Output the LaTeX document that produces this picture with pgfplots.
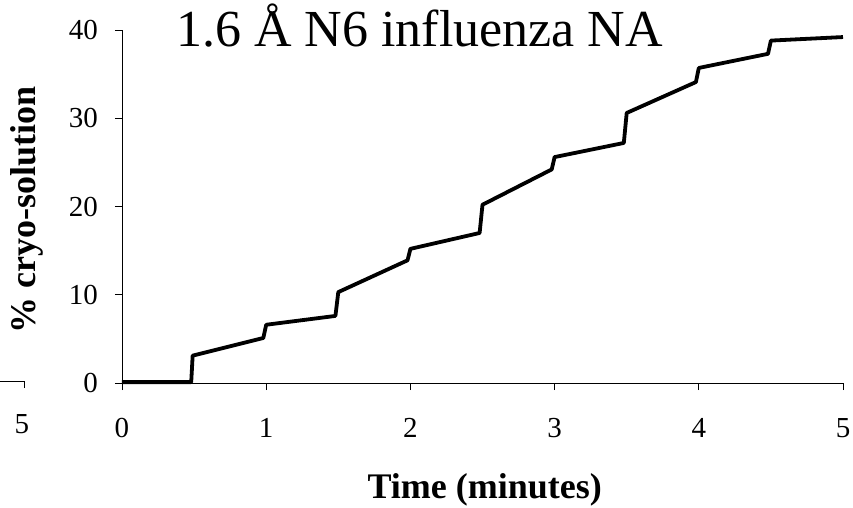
\documentclass[border=0pt]{standalone}
\usepackage{pgfplots}
\pgfplotsset{compat=1.18}
\usepackage{fontspec}
\setmainfont{Liberation Serif}

\begin{document}
\begin{tikzpicture}
\begin{axis}[
  name=main,
  scale only axis,
  width=721pt, height=353pt,
  xmin=0, xmax=5,
  ymin=0, ymax=40,
  axis x line=bottom,
  axis y line=left,
  axis line style={-, line width=0.8pt},
  xtick={0,1,2,3,4,5},
  ytick={0,10,20,30,40},
  tick align=outside,
  major tick length=7pt,
  tick style={line width=0.8pt, black},
  /pgf/number format/assume math mode=true,
  ticklabel style={font=\fontsize{29}{32}\selectfont},
  xticklabel style={inner sep=0pt, anchor=base, yshift=-47pt},
  yticklabel style={inner sep=0pt, anchor=east, xshift=-17pt},
  xlabel={Time (minutes)},
  ylabel={\% cryo-solution},
  label style={font=\fontsize{36}{42}\selectfont\bfseries},
  xlabel style={anchor=base, at={(axis description cs:0.503,-0.326)}},
  ylabel style={anchor=center, at={(axis description cs:-0.132,0.49)}},
  clip=false,
]
\addplot[black, line width=3.8pt, line join=round] coordinates {
  (0,0.1)(0.48,0.1)(0.49,3.1)(0.98,5.1)(1.0,6.6)(1.48,7.6)(1.5,10.3)
  (1.98,13.9)(2.0,15.2)(2.48,17.0)(2.5,20.2)(2.98,24.2)(3.0,25.6)
  (3.48,27.2)(3.5,30.6)(3.98,34.1)(4.0,35.7)(4.48,37.3)(4.5,38.8)(5,39.2)
};
\node[anchor=base, font=\fontsize{52}{58}\selectfont, inner sep=0pt]
  at (rel axis cs:0.413,0.952) {1.6 Å N6 influenza NA};
\end{axis}

% remnant of a neighbouring axis, cut by the left edge
\begin{axis}[
  at={(main.south west)}, anchor=south east,
  xshift=-98pt, yshift=2pt,
  scale only axis,
  width=24pt, height=10pt,
  xmin=-0.846, xmax=-0.68,
  ymin=0, ymax=1,
  axis x line=bottom,
  axis y line=none,
  axis line style={-, line width=0.8pt},
  xtick={-0.68}, xticklabels={5},
  tick align=outside,
  major tick length=7pt,
  tick style={line width=0.8pt, black},
  ticklabel style={font=\fontsize{29}{32}\selectfont},
  xticklabel style={inner sep=0pt, anchor=base, yshift=-45pt, xshift=-2pt},
]
\end{axis}
\pgfresetboundingbox
\useasboundingbox ([xshift=-122pt,yshift=-125pt]main.south west) rectangle ([xshift=731pt,yshift=383pt]main.south west);
\end{tikzpicture}
\end{document}
